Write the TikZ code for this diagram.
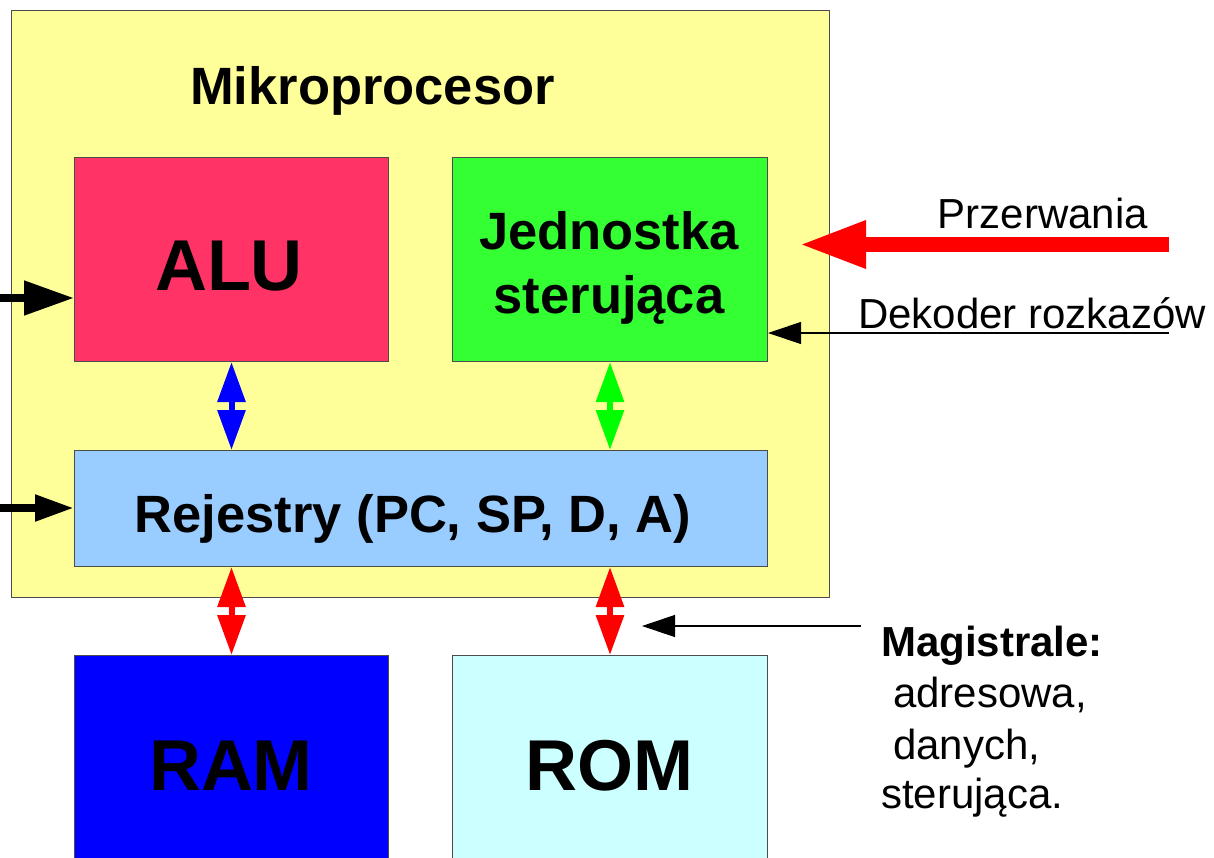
\documentclass[tikz,border=0pt]{standalone}
\usepackage{fontspec}
\setmainfont{Liberation Sans}
\usetikzlibrary{arrows.meta}
\definecolor{cpuyellow}{HTML}{FFFF99}
\definecolor{alured}{HTML}{FF3366}
\definecolor{ctrlgreen}{HTML}{33FF33}
\definecolor{regblue}{HTML}{99CCFF}
\definecolor{ramblue}{HTML}{0000FF}
\definecolor{romcyan}{HTML}{CCFFFF}
\definecolor{arrgreen}{HTML}{00FF00}
\definecolor{arrblue}{HTML}{0000FF}
\definecolor{arrred}{HTML}{FF0000}
\begin{document}
\begin{tikzpicture}[x=1pt,y=-1pt,
 unit/.style={draw=black!70, line width=1pt, inner sep=0pt, anchor=north west},
 bigtxt/.style={font=\bfseries\fontsize{72}{86}\selectfont, inner sep=0pt, anchor=base},
 midtxt/.style={font=\bfseries\fontsize{52.5}{63}\selectfont, inner sep=0pt, anchor=base},
 smalltxt/.style={font=\fontsize{42}{50}\selectfont, inner sep=0pt, anchor=base west},
 boldsmall/.style={smalltxt, font=\bfseries\fontsize{42}{50}\selectfont},
 busarrow/.style={line width=6pt, {Triangle[length=40pt,width=27pt]}-{Triangle[length=40pt,width=27pt]}},
 thinarrow/.style={line width=1.2pt, -{Triangle[length=33pt,width=22pt]}},
]
\useasboundingbox[fill=white] (0,0) rectangle (1214,857);
\clip (0,0) rectangle (1214,857);
% boxes
\node[unit, fill=cpuyellow, minimum width=818pt, minimum height=587pt] (cpu) at (11,10) {};
\node[unit, fill=alured, minimum width=314pt, minimum height=204pt] (alu) at (74,157) {};
\node[unit, fill=ctrlgreen, minimum width=315pt, minimum height=204pt] (jed) at (452,157) {};
\node[unit, fill=regblue, minimum width=693pt, minimum height=116pt] (reg) at (74,450) {};
\node[unit, fill=ramblue, minimum width=314pt, minimum height=230pt] (ram) at (74,655) {};
\node[unit, fill=romcyan, minimum width=315pt, minimum height=230pt] (rom) at (452,655) {};
% texts
\node[midtxt] (title) at (372.5,104) {Mikroprocesor};
\node[bigtxt] (alut) at (229,290) {ALU};
\node[midtxt] (jed1) at (609,249) {Jednostka};
\node[midtxt] (jed2) at (609,313) {sterująca};
\node[midtxt] (regt) at (413,532) {Rejestry (PC, SP, D, A)};
\node[bigtxt] (ramt) at (231,790) {RAM};
\node[bigtxt] (romt) at (609,790) {ROM};
\node[smalltxt, anchor=base] (intt) at (1043,228) {Przerwania};
\node[smalltxt] (dect) at (858,328) {Dekoder rozkazów};
\node[boldsmall] (bus1) at (881,656) {Magistrale:};
\node[smalltxt] (bus2) at (893,707) {adresowa,};
\node[smalltxt] (bus3) at (893,759) {danych,};
\node[smalltxt] (bus4) at (881,808) {sterująca.};
% internal buses
\draw[busarrow, arrblue] (alu.south) -- (alu.south |- reg.north);
\draw[busarrow, arrgreen] (jed.south) -- (jed.south |- reg.north);
\draw[busarrow, arrred] (ram.north |- reg.south) -- (ram.north);
\draw[busarrow, arrred] (rom.north |- reg.south) -- (rom.north);
% inputs on the left
\coordinate (inalu) at (0,298);
\draw[line width=8pt, -{Triangle[length=50pt,width=33pt]}] (inalu) -- (inalu -| alu.west);
\coordinate (inreg) at (0,508);
\draw[line width=8pt, -{Triangle[length=39pt,width=25pt]}] (inreg) -- (inreg -| reg.west);
% interrupts
\coordinate (intsrc) at (1169,244.5);
\coordinate (inttip) at (799,244.5);
\draw[arrred, line width=15pt, -{Triangle[length=67pt,width=44pt]}] (intsrc) -- (inttip);
% decoder
\coordinate (decsrc) at (1169,333);
\draw[thinarrow] (decsrc) -- (decsrc -| jed.east);
% buses label arrow
\coordinate (bussrc) at (861,626);
\coordinate (bustip) at (642,626);
\draw[thinarrow] (bussrc) -- (bustip);
\end{tikzpicture}
\end{document}
